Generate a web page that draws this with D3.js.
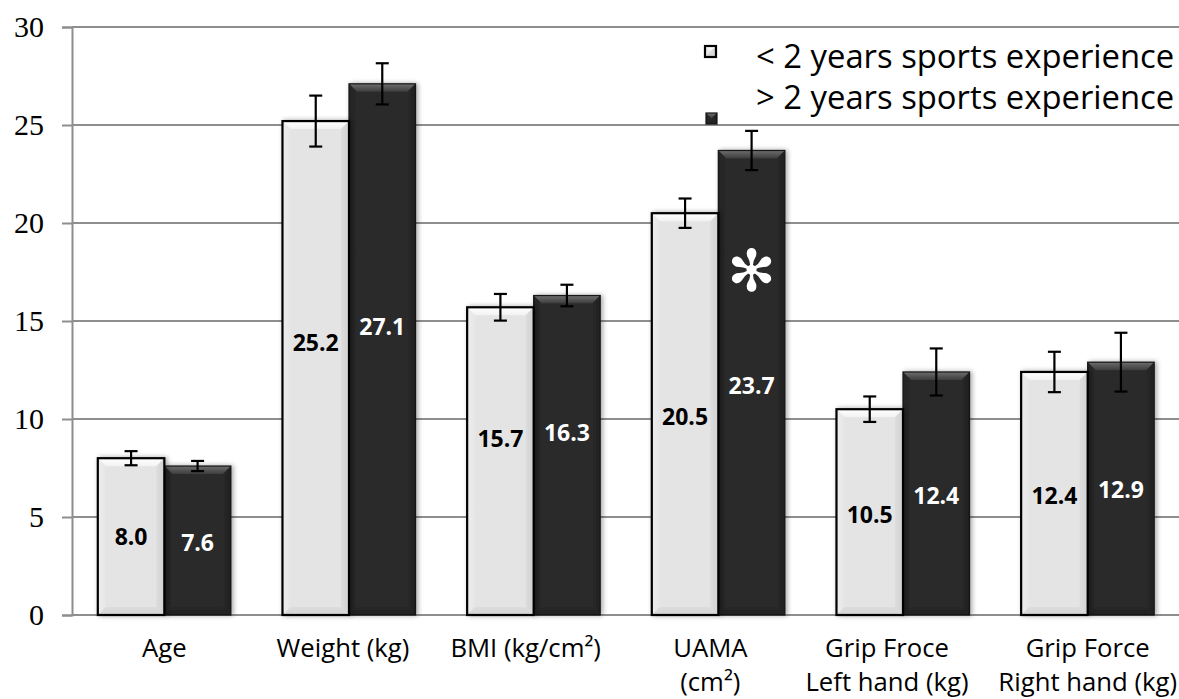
<!DOCTYPE html>
<html>
<head>
<meta charset="utf-8">
<script src="https://cdn.jsdelivr.net/npm/d3@7"></script>
<style>
  html, body { margin: 0; padding: 0; background: #fff; }
  svg { display: block; }
</style>
</head>
<body>
<svg id="chart" width="1179" height="699"></svg>
<script>
// ---- data ----
const categoryLines = [
  ["Age"],
  ["Weight (kg)"],
  ["BMI (kg/cm²)"],
  ["UAMA", "(cm²)"],
  ["Grip Froce", "Left hand (kg)"],
  ["Grip Force", "Right hand (kg)"]
];
const seriesNames = ["< 2 years sports experience", "> 2 years sports experience"];
const lessThan2 = [8.0, 25.2, 15.7, 20.5, 10.5, 12.4];
const moreThan2 = [7.6, 27.1, 16.3, 23.7, 12.4, 12.9];
const lessThan2Err = [0.36, 1.3, 0.68, 0.75, 0.65, 1.03];
const moreThan2Err = [0.26, 1.05, 0.55, 1.0, 1.2, 1.5];
// value-label anchor heights (in data units)
const lessThan2LabelAt = [3.98, 13.9, 9.0, 10.1, 5.1, 6.1];
const moreThan2LabelAt = [3.7, 14.7, 9.3, 11.7, 6.1, 6.4];
const yTicks = [0, 5, 10, 15, 20, 25, 30];
const significant = [false, false, false, true, false, false];

// ---- layout ----
const svg = d3.select("#chart");
const plotLeft = 72, plotRight = 1180, plotTop = 27, plotBottom = 615;
const sans = "'Open Sans', Lato, sans-serif";
const catLabelShift = [0, -6, -8, -8, -16, 0]; // px, horizontal nudge of category labels

const y = d3.scaleLinear().domain([0, 30]).range([plotBottom, plotTop]);
const x0 = d3.scaleBand().domain(d3.range(categoryLines.length)).range([plotLeft, plotRight]).padding(0);
const x1 = d3.scaleBand().domain([0, 1]).range([0, x0.bandwidth()]).paddingInner(0).paddingOuter(0.388);

const defs = svg.append("defs");
function lin(id, stops, x1_, y1_, x2_, y2_) {
  const g = defs.append("linearGradient").attr("id", id)
    .attr("x1", x1_).attr("y1", y1_).attr("x2", x2_).attr("y2", y2_);
  stops.forEach(s => g.append("stop").attr("offset", s[0]).attr("stop-color", s[1]));
}
// light bevels
lin("lTop", [[0, "#ffffff"], [1, "#f2f2f2"]], 0, 0, 0, 1);
lin("lLeft", [[0, "#f6f6f6"], [1, "#e8e8e8"]], 0, 0, 1, 0);
lin("lRight", [[0, "#d8d8d8"], [1, "#c4c4c4"]], 0, 0, 1, 0);
lin("lBottom", [[0, "#d8d8d8"], [1, "#c6c6c6"]], 0, 0, 0, 1);
// dark bevels
lin("dTop", [[0, "#6e6e6e"], [1, "#3c3c3c"]], 0, 0, 0, 1);
lin("dLeft", [[0, "#1c1c1c"], [1, "#2a2a2a"]], 0, 0, 1, 0);
lin("dRight", [[0, "#2a2a2a"], [1, "#161616"]], 0, 0, 1, 0);
lin("dBottom", [[0, "#252525"], [1, "#1a1a1a"]], 0, 0, 0, 1);

const shadow = defs.append("filter").attr("id", "shadow").attr("x", "-20%").attr("y", "-5%").attr("width", "140%").attr("height", "110%");
shadow.append("feGaussianBlur").attr("in", "SourceAlpha").attr("stdDeviation", 2.5).attr("result", "b");
shadow.append("feOffset").attr("in", "b").attr("dx", 1.5).attr("dy", 0).attr("result", "o");
shadow.append("feComponentTransfer").attr("in", "o").attr("result", "s")
  .append("feFuncA").attr("type", "linear").attr("slope", 0.35);
const mg = shadow.append("feMerge");
mg.append("feMergeNode").attr("in", "s");
mg.append("feMergeNode").attr("in", "SourceGraphic");

// ---- gridlines ----
const grid = svg.append("g");
grid.selectAll("line").data(yTicks).join("line")
  .attr("x1", plotLeft).attr("x2", 1179)
  .attr("y1", d => y(d)).attr("y2", d => y(d))
  .attr("stroke", "#8e8e8e").attr("stroke-width", 2);

// ---- y axis ----
const yAxis = d3.axisLeft(y).tickValues(yTicks).tickSize(10).tickPadding(18);
const yg = svg.append("g").attr("transform", `translate(${plotLeft},0)`).call(yAxis);
yg.select(".domain").attr("stroke", "#8e8e8e").attr("stroke-width", 2);
yg.selectAll(".tick line").attr("stroke", "#8e8e8e").attr("stroke-width", 2);
yg.selectAll(".tick text").attr("font-family", "'Liberation Serif', 'Times New Roman', serif")
  .attr("font-size", 30).attr("fill", "#000").attr("dy", "0.33em");

// ---- bars ----
function bevelBar(g, x, yy, w, h, kind) {
  const b = Math.min(8, h / 2, w / 2);
  const p = kind === "l" ? "l" : "d";
  g.append("rect").attr("x", x).attr("y", yy).attr("width", w).attr("height", h)
    .attr("fill", kind === "l" ? "#e4e4e4" : "#2a2a2a");
  const polys = {
    Top: [[x, yy], [x + w, yy], [x + w - b, yy + b], [x + b, yy + b]],
    Left: [[x, yy], [x + b, yy + b], [x + b, yy + h - b], [x, yy + h]],
    Right: [[x + w, yy], [x + w, yy + h], [x + w - b, yy + h - b], [x + w - b, yy + b]],
    Bottom: [[x, yy + h], [x + b, yy + h - b], [x + w - b, yy + h - b], [x + w, yy + h]]
  };
  const op = { Top: 1, Left: 0.5, Right: 0.6, Bottom: 0.6 };
  Object.keys(polys).forEach(k => {
    g.append("polygon").attr("points", polys[k].map(pt => pt.join(",")).join(" "))
      .attr("fill", `url(#${p}${k})`).attr("opacity", op[k]);
  });
  g.append("rect").attr("x", x).attr("y", yy).attr("width", w).attr("height", h)
    .attr("fill", "none")
    .attr("stroke", kind === "l" ? "#000" : "#151515")
    .attr("stroke-width", kind === "l" ? 2.2 : 1.2);
}

const series = [
  { vals: lessThan2, err: lessThan2Err, lab: lessThan2LabelAt, kind: "l", color: "#000" },
  { vals: moreThan2, err: moreThan2Err, lab: moreThan2LabelAt, kind: "d", color: "#fff" }
];

const barsG = svg.append("g");
[1, 0].forEach(si => {
  const s = series[si];
  s.vals.forEach((v, i) => {
    const bx = x0(i) + x1(si);
    const g = barsG.append("g").attr("filter", "url(#shadow)");
    bevelBar(g, bx, y(v), x1.bandwidth(), y(0) - y(v), s.kind);
  });
});

// error bars
const errG = svg.append("g").attr("stroke", "#000").attr("stroke-width", 2.2);
series.forEach((s, si) => {
  s.vals.forEach((v, i) => {
    const cx = x0(i) + x1(si) + x1.bandwidth() / 2;
    const hi = y(v + s.err[i]), lo = y(v - s.err[i]);
    errG.append("line").attr("x1", cx).attr("x2", cx).attr("y1", hi).attr("y2", lo);
    errG.append("line").attr("x1", cx - 6.5).attr("x2", cx + 6.5).attr("y1", hi).attr("y2", hi);
    errG.append("line").attr("x1", cx - 6.5).attr("x2", cx + 6.5).attr("y1", lo).attr("y2", lo);
  });
});

// value labels
const labG = svg.append("g").attr("font-family", sans)
  .attr("font-weight", "bold").attr("font-size", 23).attr("text-anchor", "middle");
series.forEach((s, si) => {
  s.vals.forEach((v, i) => {
    labG.append("text")
      .attr("x", x0(i) + x1(si) + x1.bandwidth() / 2)
      .attr("y", y(s.lab[i]))
      .attr("dy", "0.36em")
      .attr("fill", s.color)
      .text(d3.format(".1f")(v));
  });
});

// significance asterisk
significant.forEach((f, i) => {
  if (!f) return;
  svg.append("text")
    .attr("x", x0(i) + x1(1) + x1.bandwidth() / 2)
    .attr("y", 271)
    .attr("dy", "0.35em")
    .attr("text-anchor", "middle")
    .attr("font-family", "'DejaVu Sans', sans-serif")
    .attr("font-size", 58)
    .attr("fill", "#fff")
    .text("✻");
});

// ---- category labels ----
const catG = svg.append("g").attr("font-family", sans)
  .attr("font-size", 25.7).attr("fill", "#000").attr("text-anchor", "middle");
categoryLines.forEach((lines, i) => {
  const cx = x0(i) + x0.bandwidth() / 2 + catLabelShift[i];
  const t = catG.append("text").attr("x", cx).attr("y", 657);
  lines.forEach((ln, k) => {
    t.append("tspan").attr("x", cx).attr("dy", k === 0 ? 0 : 33.5).text(ln);
  });
});

// ---- legend ----
const leg = svg.append("g");
const legendRows = [
  { name: seriesNames[0], kind: "l", sq: [705, 46], ty: 68 },
  { name: seriesNames[1], kind: "d", sq: [706, 113], ty: 109 }
];
legendRows.forEach(r => {
  const g = leg.append("g");
  bevelBar(g, r.sq[0], r.sq[1], 11, 11, r.kind);
  leg.append("text").attr("x", 756).attr("y", r.ty)
    .attr("font-family", sans).attr("font-size", 32.8)
    .attr("fill", "#000").text(r.name);
});
</script>
</body>
</html>
